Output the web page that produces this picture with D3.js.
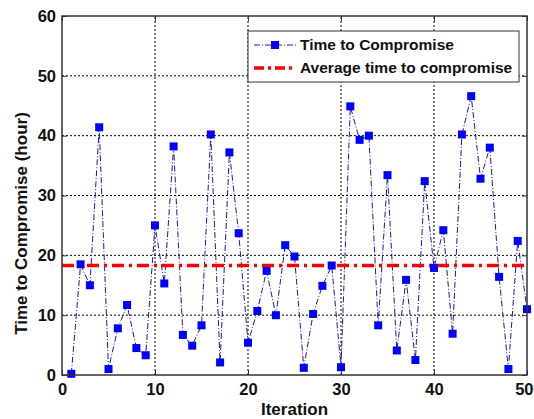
<!DOCTYPE html>
<html>
<head>
<meta charset="utf-8">
<script src="https://cdn.jsdelivr.net/npm/d3@7"></script>
<style>
  body { margin: 0; background: #fff; }
  svg { display: block; font-family: "Liberation Sans", Arial, sans-serif; }
  .tick text { font-weight: bold; font-size: 16.5px; fill: #111; }
</style>
</head>
<body>
<svg id="chart" width="534" height="419"></svg>
<script>
// Iterations 1..50 and the time (hours) each one took to compromise
const iterations = d3.range(1, 51);
const timeToCompromise = [
  0.2, 18.5, 15.0, 41.4, 1.0, 7.8, 11.7, 4.5, 3.3, 25.0,
  15.3, 38.2, 6.7, 4.9, 8.3, 40.2, 2.1, 37.2, 23.7, 5.4,
  10.7, 17.4, 10.0, 21.7, 19.8, 1.2, 10.2, 14.9, 18.3, 1.3,
  44.9, 39.3, 40.0, 8.3, 33.4, 4.1, 15.9, 2.5, 32.4, 17.9,
  24.2, 6.9, 40.2, 46.6, 32.8, 38.0, 16.4, 1.0, 22.4, 11.0
];
const xTicks = [0, 10, 20, 30, 40, 50];
const yTicks = [0, 10, 20, 30, 40, 50, 60];
const legendLabels = ["Time to Compromise", "Average time to compromise"];

const averageTime = d3.mean(timeToCompromise);

const svg = d3.select("#chart");
const margin = { left: 62, right: 7, top: 16, bottom: 44 };
const W = 534, H = 419;
const x = d3.scaleLinear().domain([0, 50]).range([margin.left, W - margin.right]);
const y = d3.scaleLinear().domain([0, 60]).range([H - margin.bottom, margin.top]);

const x0 = x.range()[0], x1 = x.range()[1];
const yb = y.range()[0], yt = y.range()[1];

// dotted grid
const grid = svg.append("g");
grid.selectAll(".gx").data(xTicks.slice(1, -1)).join("line")
  .attr("x1", d => x(d)).attr("x2", d => x(d))
  .attr("y1", yb).attr("y2", yt)
  .attr("stroke", "#000").attr("stroke-width", 1).attr("stroke-dasharray", "2,2");
grid.selectAll(".gy").data(yTicks.slice(1, -1)).join("line")
  .attr("y1", d => y(d)).attr("y2", d => y(d))
  .attr("x1", x0).attr("x2", x1)
  .attr("stroke", "#000").attr("stroke-width", 1).attr("stroke-dasharray", "2,2");

// series line (dash-dot)
const line = d3.line().x((d, i) => x(iterations[i])).y(d => y(d));
svg.append("path").datum(timeToCompromise)
  .attr("d", line).attr("fill", "none")
  .attr("stroke", "#1a1aa0").attr("stroke-width", 1)
  .attr("stroke-dasharray", "6,2,1,2");

// average line
svg.append("line")
  .attr("x1", x0).attr("x2", x1)
  .attr("y1", y(averageTime)).attr("y2", y(averageTime))
  .attr("stroke", "#ff0000").attr("stroke-width", 3.5)
  .attr("stroke-dasharray", "12,5,3,5");

// markers
const ms = 8;
svg.selectAll(".pt").data(timeToCompromise).join("rect")
  .attr("x", (d, i) => x(iterations[i]) - ms / 2)
  .attr("y", d => y(d) - ms / 2)
  .attr("width", ms).attr("height", ms)
  .attr("fill", "#0000ff");

// axes with inward ticks
const xAxis = svg.append("g").attr("transform", `translate(0,${yb})`)
  .call(d3.axisBottom(x).tickValues(xTicks).tickSizeInner(-5).tickSizeOuter(0).tickPadding(8));
const yAxis = svg.append("g").attr("transform", `translate(${x0},0)`)
  .call(d3.axisLeft(y).tickValues(yTicks).tickSizeInner(-5).tickSizeOuter(0).tickPadding(6));
const xTop = svg.append("g").attr("transform", `translate(0,${yt})`)
  .call(d3.axisTop(x).tickValues(xTicks).tickSizeInner(-5).tickSizeOuter(0).tickFormat(""));
const yRight = svg.append("g").attr("transform", `translate(${x1},0)`)
  .call(d3.axisRight(y).tickValues(yTicks).tickSizeInner(-5).tickSizeOuter(0).tickFormat(""));
[xAxis, yAxis, xTop, yRight].forEach(g => {
  g.select(".domain").remove();
  g.selectAll(".tick line").attr("stroke", "#333");
});
// keep the last x label inside the page edge
xAxis.selectAll(".tick text")
  .filter(d => d === xTicks[xTicks.length - 1])
  .attr("text-anchor", "end")
  .attr("x", W - 1 - x1);

// frame
svg.append("rect")
  .attr("x", x0).attr("y", yt)
  .attr("width", x1 - x0).attr("height", yb - yt)
  .attr("fill", "none").attr("stroke", "#333").attr("stroke-width", 1.5);

// axis titles
svg.append("text")
  .attr("x", (x0 + x1) / 2).attr("y", 415)
  .attr("text-anchor", "middle")
  .attr("font-weight", "bold").attr("font-size", 17)
  .attr("fill", "#111")
  .text("Iteration");
svg.append("text")
  .attr("transform", `translate(27,${(yt + yb) / 2 + 28}) rotate(-90)`)
  .attr("text-anchor", "middle")
  .attr("font-weight", "bold").attr("font-size", 17)
  .attr("fill", "#111")
  .text("Time to Compromise (hour)");

// legend
const lg = svg.append("g").attr("transform", "translate(248,31)");
lg.append("rect").attr("width", 271).attr("height", 51)
  .attr("fill", "#fff").attr("stroke", "#333").attr("stroke-width", 1);
lg.append("line").attr("x1", 6).attr("x2", 48).attr("y1", 14).attr("y2", 14)
  .attr("stroke", "#1a1aa0").attr("stroke-width", 1).attr("stroke-dasharray", "6,2,1,2");
lg.append("rect").attr("x", 27 - ms / 2).attr("y", 14 - ms / 2)
  .attr("width", ms).attr("height", ms).attr("fill", "#0000ff");
lg.append("line").attr("x1", 6).attr("x2", 48).attr("y1", 37).attr("y2", 37)
  .attr("stroke", "#ff0000").attr("stroke-width", 3.5).attr("stroke-dasharray", "10,4,3,4");
lg.selectAll(".lt").data(legendLabels).join("text")
  .attr("x", 52).attr("y", (d, i) => 14 + i * 23)
  .attr("dy", "0.35em")
  .attr("font-weight", "bold").attr("font-size", 15.5)
  .attr("fill", "#111")
  .text(d => d);
</script>
</body>
</html>
